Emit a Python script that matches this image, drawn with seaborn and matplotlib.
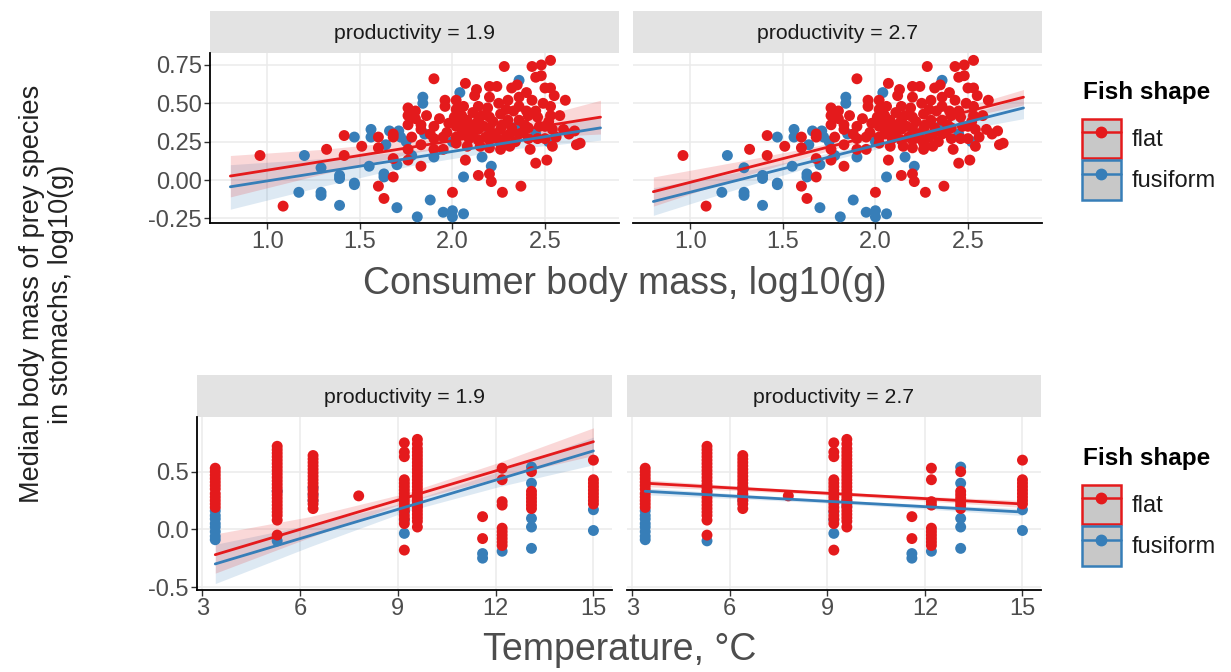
import numpy as np
import pandas as pd
import matplotlib
matplotlib.use("Agg")
import matplotlib.pyplot as plt
import seaborn as sns
from matplotlib.patches import Patch, Rectangle
from matplotlib.lines import Line2D
from matplotlib.legend_handler import HandlerTuple

# ---------------- data ----------------
shapes = ["flat", "fusiform"]
colors = {"flat": "#e41a1c", "fusiform": "#377eb8"}
productivity = ["1.9", "2.7"]

# top row: consumer body mass (log10 g) vs median prey mass (log10 g)
mass_flat = [0.96, 1.085, 1.32, 1.415, 1.415, 1.51, 1.60, 1.60, 1.60, 1.63, 1.68, 1.68, 1.68, 1.68,
             1.76, 1.76, 1.76, 1.76, 1.76, 1.80, 1.80, 1.78, 1.90, 1.83, 1.83, 1.83, 1.83, 1.90, 1.90,
             1.90, 1.95, 1.95, 1.96, 1.96, 2.00, 2.02, 2.02, 2.02, 2.02, 2.02, 2.07, 2.07, 2.08, 2.08,
             2.08, 2.13, 2.14, 2.14, 2.14, 2.14, 2.14, 2.20, 2.21, 2.20, 2.20, 2.20, 2.20, 2.20, 2.20,
             2.24, 2.26, 2.26, 2.26, 2.26, 2.27, 2.28, 2.30, 2.30, 2.31, 2.31, 2.36, 2.36, 2.36, 2.36,
             2.37, 2.41, 2.41, 2.41, 2.43, 2.43, 2.45, 2.45, 2.46, 2.46, 2.48, 2.48, 2.50, 2.50, 2.50,
             2.51, 2.53, 2.53, 2.53, 2.53, 2.54, 2.54, 2.61, 2.60, 2.66, 2.67, 2.69, 2.16, 2.23, 2.33,
             2.39, 2.45, 2.29, 2.18, 2.11, 2.05, 1.98, 2.25, 2.35, 2.40, 2.11, 2.05,
             1.86, 1.88, 1.93, 1.97, 2.01, 2.04, 2.06, 2.09, 2.12, 2.15, 2.17, 2.19, 2.22, 2.24, 2.27,
             2.29, 2.32, 2.34, 2.38, 2.40, 2.42, 2.47, 2.49, 2.52, 2.56, 2.58, 2.63, 2.12, 2.32, 2.55]
prey_flat = [0.16, -0.17, 0.20, 0.29, 0.16, 0.22, 0.28, 0.21, -0.04, -0.12, 0.30, 0.28, 0.14, 0.02,
             0.47, 0.42, 0.36, 0.20, 0.13, 0.45, 0.40, 0.28, 0.66, 0.09, 0.36, 0.33, 0.23, 0.35, 0.27,
             0.20, 0.28, 0.20, 0.52, 0.48, -0.08, 0.52, 0.46, 0.35, 0.28, 0.24, 0.63, 0.13, 0.39, 0.33,
             0.22, 0.59, 0.48, 0.39, 0.33, 0.26, 0.03, 0.04, -0.01, 0.61, 0.54, 0.41, 0.34, 0.26, 0.21,
             0.61, 0.43, 0.33, 0.24, 0.20, -0.08, 0.74, 0.52, 0.39, 0.30, 0.22, 0.54, 0.48, 0.39, 0.30,
             -0.04, 0.42, 0.34, 0.27, 0.74, 0.52, 0.67, 0.11, 0.41, 0.27, 0.75, 0.68, 0.60, 0.35, 0.27,
             0.13, 0.78, 0.60, 0.48, 0.42, 0.33, 0.22, 0.52, 0.33, 0.32, 0.23, 0.24, 0.42, 0.30, 0.45,
             0.36, 0.45, 0.28, 0.28, 0.30, 0.30, 0.37, 0.50, 0.62, 0.57, 0.44, 0.42,
             0.42, 0.30, 0.40, 0.31, 0.41, 0.36, 0.48, 0.27, 0.36, 0.22, 0.35, 0.47, 0.38, 0.27, 0.36,
             0.46, 0.34, 0.25, 0.31, 0.45, 0.20, 0.35, 0.50, 0.38, 0.28, 0.42, 0.30, 0.55, 0.60, 0.55]
mass_fusi = [1.20, 1.17, 1.29, 1.29, 1.29, 1.39, 1.39, 1.39, 1.47, 1.47, 1.47, 1.56, 1.56, 1.55, 1.63,
             1.63, 1.64, 1.71, 1.72, 1.70, 1.70, 1.81, 1.84, 1.84, 1.88, 1.95, 2.00, 2.00, 2.06, 2.06,
             2.04, 2.16, 2.21, 2.36, 1.90, 1.75, 1.85, 2.10, 2.20, 2.35, 2.45, 2.52, 2.00, 1.78, 1.66]
prey_fusi = [0.16, -0.08, 0.08, -0.08, -0.10, 0.03, 0.01, -0.165, 0.28, -0.02, -0.03, 0.33, 0.28, 0.09,
             0.04, 0.02, 0.23, 0.32, 0.28, 0.10, -0.18, -0.24, 0.54, 0.50, -0.13, -0.21, -0.20, -0.24,
             -0.22, 0.02, 0.57, 0.15, 0.09, 0.65, 0.15, 0.25, 0.30, 0.30, 0.30, 0.35, 0.30, 0.25, 0.25,
             0.16, 0.32]

# bottom row: temperature columns and prey values per column
temp_cols = [3.4, 5.3, 6.4, 7.8, 9.2, 9.6, 11.6, 12.2, 13.1, 15.0]
prey_flat_by_temp = [
    [0.53, 0.50, 0.47, 0.44, 0.41, 0.38, 0.35, 0.31, 0.28, 0.25, 0.22, 0.19],
    [0.72, 0.69, 0.66, 0.63, 0.60, 0.57, 0.54, 0.51, 0.48, 0.45, 0.42, 0.39, 0.36, 0.33, 0.30,
     0.27, 0.24, 0.21, 0.18, 0.15, 0.12, 0.08, -0.05],
    [0.64, 0.61, 0.58, 0.55, 0.52, 0.49, 0.46, 0.43, 0.40, 0.37, 0.34, 0.31, 0.28, 0.25, 0.22, 0.18],
    [0.29],
    [0.75, 0.67, 0.63, 0.43, 0.40, 0.37, 0.34, 0.31, 0.28, 0.25, 0.22, 0.19, 0.16, 0.12, 0.09,
     0.05, -0.18],
    [0.78, 0.74, 0.70, 0.67, 0.64, 0.61, 0.58, 0.55, 0.52, 0.49, 0.46, 0.43, 0.40, 0.37, 0.34,
     0.31, 0.28, 0.25, 0.22, 0.19, 0.16, 0.13, 0.10, 0.07, 0.02],
    [0.11, -0.08],
    [0.53, 0.43, 0.24, 0.21, 0.01, -0.02, -0.05, -0.08, -0.11, -0.14],
    [0.50, 0.33, 0.30, 0.27, 0.24, 0.21, 0.18],
    [0.60, 0.43, 0.40, 0.37, 0.34, 0.31, 0.28, 0.25, 0.22],
]
prey_fusi_by_temp = [
    [0.16, 0.12, 0.09, 0.05, 0.02, -0.02, -0.06, -0.09],
    [0.33, -0.10],
    [0.36, 0.30, 0.25],
    [],
    [0.15, 0.08, -0.035],
    [0.25, 0.20],
    [-0.21, -0.25],
    [-0.19],
    [0.54, 0.40, 0.095, 0.02, -0.165],
    [0.17, -0.01],
]

# model fits (line ends) and confidence bands at band positions
mass_fit_x = [0.8, 2.8]
mass_band_x = [0.8, 1.3, 1.8, 2.3, 2.8]
temp_fit_x = [3.4, 15.0]
temp_band_x = [3.4, 6.3, 9.2, 12.1, 15.0]

mass_fit = {("1.9", "flat"): [0.026, 0.41], ("1.9", "fusiform"): [-0.044, 0.34],
            ("2.7", "flat"): [-0.076, 0.54], ("2.7", "fusiform"): [-0.14, 0.47]}
mass_lo = {("1.9", "flat"): [-0.11, 0.04, 0.18, 0.27, 0.30],
           ("1.9", "fusiform"): [-0.19, -0.04, 0.10, 0.20, 0.26],
           ("2.7", "flat"): [-0.17, 0.03, 0.21, 0.36, 0.49],
           ("2.7", "fusiform"): [-0.23, -0.04, 0.14, 0.29, 0.40]}
mass_hi = {("1.9", "flat"): [0.16, 0.20, 0.26, 0.36, 0.52],
           ("1.9", "fusiform"): [0.10, 0.14, 0.19, 0.29, 0.42],
           ("2.7", "flat"): [0.02, 0.13, 0.25, 0.41, 0.59],
           ("2.7", "fusiform"): [-0.05, 0.06, 0.19, 0.35, 0.54]}

temp_fit = {("1.9", "flat"): [-0.22, 0.76], ("1.9", "fusiform"): [-0.30, 0.68],
            ("2.7", "flat"): [0.40, 0.22], ("2.7", "fusiform"): [0.33, 0.15]}
temp_lo = {("1.9", "flat"): [-0.38, -0.07, 0.23, 0.45, 0.64],
           ("1.9", "fusiform"): [-0.47, -0.15, 0.15, 0.37, 0.56],
           ("2.7", "flat"): [0.37, 0.335, 0.295, 0.245, 0.19],
           ("2.7", "fusiform"): [0.30, 0.265, 0.225, 0.175, 0.12]}
temp_hi = {("1.9", "flat"): [-0.04, 0.11, 0.31, 0.58, 0.88],
           ("1.9", "fusiform"): [-0.13, 0.04, 0.23, 0.50, 0.80],
           ("2.7", "flat"): [0.43, 0.375, 0.325, 0.285, 0.25],
           ("2.7", "fusiform"): [0.36, 0.305, 0.255, 0.215, 0.18]}

# ---------------- build frames ----------------
df_mass = pd.concat([
    pd.DataFrame({"x": mass_fusi, "y": prey_fusi, "shape": "fusiform"}),
    pd.DataFrame({"x": mass_flat, "y": prey_flat, "shape": "flat"}),
], ignore_index=True)

rows = []
for t, vals in zip(temp_cols, prey_fusi_by_temp):
    for v in vals:
        rows.append((t, v, "fusiform"))
for t, vals in zip(temp_cols, prey_flat_by_temp):
    for v in vals:
        rows.append((t, v, "flat"))
df_temp = pd.DataFrame(rows, columns=["x", "y", "shape"])

# ---------------- figure ----------------
sns.set_theme(style="white")
plt.rcParams["font.family"] = ["Liberation Sans", "DejaVu Sans"]

W, H = 1231, 672
fig = plt.figure(figsize=(W / 100, H / 100), dpi=100)


def add_ax(x0, y0, x1, y1):
    return fig.add_axes([x0 / W, 1 - y1 / H, (x1 - x0) / W, (y1 - y0) / H])


def strip(x0, y0, x1, y1, label):
    a = add_ax(x0, y0, x1, y1)
    a.set_axis_off()
    a.add_patch(Rectangle((0, 0), 1, 1, transform=a.transAxes, fc="#e3e3e3", ec="none"))
    a.text(0.5, 0.47, label, ha="center", va="center", fontsize=15.3, color="#1a1a1a",
           transform=a.transAxes)


def style(ax, left):
    ax.set_facecolor("white")
    ax.grid(True, color="#ebebeb", lw=1.1)
    ax.set_axisbelow(True)
    for s in ["top", "right"]:
        ax.spines[s].set_visible(False)
    ax.spines["bottom"].set_color("black")
    ax.spines["bottom"].set_linewidth(1.3)
    if left:
        ax.spines["left"].set_color("black")
        ax.spines["left"].set_linewidth(1.3)
    else:
        ax.spines["left"].set_visible(False)
        ax.tick_params(axis="y", left=False, labelleft=False)
    ax.tick_params(axis="both", length=4, width=1.0, color="#333333",
                   labelcolor="#4d4d4d", labelsize=17, pad=2)
    if left:
        ax.tick_params(axis="y", left=True)
    ax.tick_params(axis="x", bottom=True)
    ax.set_xlabel("")
    ax.set_ylabel("")


def draw_panel(ax, df, fit_x, fit, band_x, lo, hi, prod):
    for sh in ["fusiform", "flat"]:
        ax.fill_between(band_x, lo[(prod, sh)], hi[(prod, sh)], color=colors[sh],
                        alpha=0.17, lw=0, zorder=2)
    sns.scatterplot(data=df, x="x", y="y", hue="shape", palette=colors, ax=ax,
                    s=62, linewidth=0, legend=False, zorder=3)
    for sh in ["fusiform", "flat"]:
        ldf = pd.DataFrame({"x": fit_x, "y": fit[(prod, sh)]})
        sns.lineplot(data=ldf, x="x", y="y", ax=ax, color=colors[sh], lw=2.0, zorder=4)


# top row
panels_top = [((210, 53, 619, 223), "1.9", True), ((633, 53, 1042, 223), "2.7", False)]
for (x0, y0, x1, y1), prod, left in panels_top:
    strip(x0, 11, x1, 53, f"productivity = {prod}")
    ax = add_ax(x0, y0, x1, y1)
    draw_panel(ax, df_mass, mass_fit_x, mass_fit, mass_band_x, mass_lo, mass_hi, prod)
    ax.set_xlim(0.69, 2.90)
    ax.set_ylim(-0.28, 0.828)
    ax.set_xticks([1.0, 1.5, 2.0, 2.5])
    ax.set_xticklabels(["1.0", "1.5", "2.0", "2.5"])
    ax.set_yticks([-0.25, 0.0, 0.25, 0.5, 0.75])
    ax.set_yticklabels(["-0.25", "0.00", "0.25", "0.50", "0.75"])
    style(ax, left)

# bottom row
panels_bot = [((197, 417, 612, 590), "1.9", True), ((627, 417, 1041, 590), "2.7", False)]
for (x0, y0, x1, y1), prod, left in panels_bot:
    strip(x0, 375, x1, 417, f"productivity = {prod}")
    ax = add_ax(x0, y0, x1, y1)
    draw_panel(ax, df_temp, temp_fit_x, temp_fit, temp_band_x, temp_lo, temp_hi, prod)
    ax.set_xlim(2.84, 15.57)
    ax.set_ylim(-0.526, 0.974)
    ax.set_xticks([3, 6, 9, 12, 15])
    ax.set_yticks([-0.5, 0.0, 0.5])
    ax.set_yticklabels(["-0.5", "0.0", "0.5"])
    style(ax, left)

# axis titles
fig.text(625 / W, 1 - 284 / H, "Consumer body mass, log10(g)", ha="center", va="center",
         fontsize=27, color="#4d4d4d")
fig.text(620 / W, 1 - 650 / H, "Temperature, \u00b0C", ha="center", va="center",
         fontsize=27, color="#4d4d4d")
fig.text(47 / W, 1 - 294 / H, "Median body mass of prey species\nin stomachs, log10(g)",
         ha="center", va="center", rotation=90, fontsize=19.5, color="#222222",
         linespacing=1.15)

# legends (title as separate text so the gap to the keys matches)
def make_legend(title_px, keys_top_px):
    fig.text(1083 / W, 1 - title_px / H, "Fish shape", ha="left", va="center",
             fontsize=17.5, fontweight="bold", color="black")
    handles = []
    for sh in shapes:
        handles.append((Patch(fc="#c8c8c8", ec=colors[sh], lw=1.8),
                        Line2D([], [], color=colors[sh], lw=1.8, marker="o", ms=7.5)))
    leg = fig.legend(handles=handles, labels=shapes,
                     handler_map={tuple: HandlerTuple(ndivide=1, pad=0)},
                     loc="upper left", bbox_to_anchor=(1078 / W, 1 - keys_top_px / H),
                     frameon=False, borderaxespad=0, borderpad=0.15,
                     handlelength=1.68, handleheight=2.2, handletextpad=0.45,
                     labelspacing=0.08, numpoints=1, fontsize=17)
    for t in leg.get_texts():
        t.set_color("#1a1a1a")
    return leg

make_legend(93, 115)
make_legend(459, 481)

fig.savefig("out.png", dpi=100)
